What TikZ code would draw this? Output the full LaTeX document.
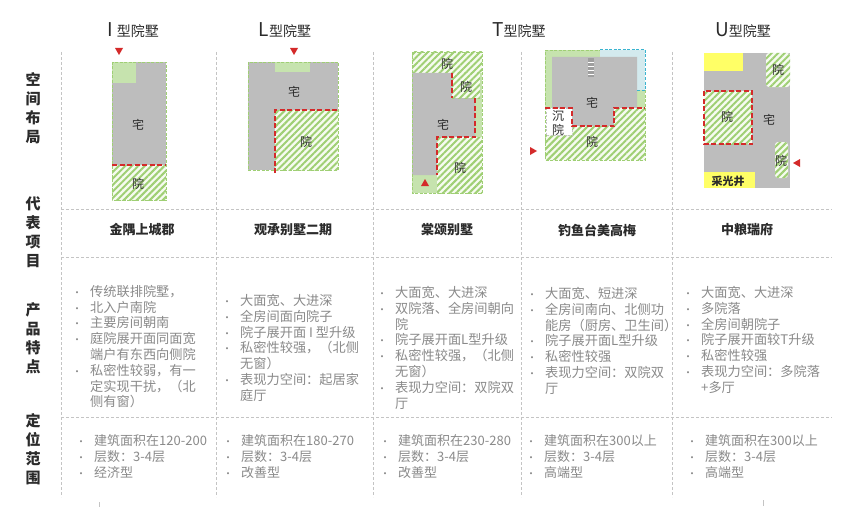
\documentclass[tikz,border=0pt]{standalone}
\usepackage{fontspec}
\setmainfont{Noto Sans CJK SC}
\usetikzlibrary{patterns.meta}
\definecolor{gridc}{HTML}{C4C4C4}
\definecolor{housegrey}{HTML}{BDBDBD}
\definecolor{lgreen}{HTML}{C6E3AE}
\definecolor{hgreen}{HTML}{9FCF74}
\definecolor{hbg}{HTML}{F6FBF0}
\definecolor{redc}{HTML}{D42A2A}
\definecolor{yel}{HTML}{FFFF66}
\definecolor{cyanc}{HTML}{3BB4D0}
\definecolor{bluefill}{HTML}{D3EAEE}
\definecolor{stairc}{HTML}{9E9E9E}
\definecolor{bodyc}{HTML}{8A8A8A}
\definecolor{headc}{HTML}{2B2B2B}
\newcommand{\itm}[1]{\makebox[18pt][l]{\fontsize{10}{10}\selectfont •}#1}
\newcommand{\cont}[1]{\hspace*{18pt}#1}
\begin{document}
\begin{tikzpicture}[x=1pt,y=-1pt,
  gridline/.style={gridc, dash pattern=on 3pt off 2pt, line width=0.8pt},
  house/.style={fill=housegrey},
  yard/.style={fill=hbg, postaction={pattern={Lines[angle=45,distance=4.6pt,line width=2pt]}, pattern color=hgreen}},
  outline/.style={draw=hgreen, dash pattern=on 3pt off 1.5pt, line width=0.9pt},
  reddash/.style={draw=redc, dash pattern=on 5pt off 2.5pt, line width=2pt},
  greydash/.style={draw=gridc, dash pattern=on 2pt off 1.5pt, line width=0.8pt},
  lbl/.style={font=\fontsize{12}{12}\selectfont, text=headc, inner sep=0pt},
  head/.style={anchor=base, inner sep=0pt, text=headc},
  rowlbl/.style={font=\bfseries\fontsize{15}{19}\selectfont, text=headc, align=center, inner sep=0pt},
  proj/.style={font=\bfseries\fontsize{13}{13}\selectfont, text=headc, inner sep=0pt},
  body/.style={font=\fontsize{13.2}{15.8}\selectfont, text=bodyc, align=left, inner sep=0pt, anchor=north west},
  body4/.style={font=\fontsize{13}{16}\selectfont, text=bodyc, align=left, inner sep=0pt, anchor=north west},
  tri/.style={fill=redc}
]
\useasboundingbox (0,0) rectangle (854,519);
\fill[white] (0,0) rectangle (854,519);

% ---------- grid ----------
\foreach \x in {61,216,373,521,672} \draw[gridline] (\x,52) -- (\x,497);
\foreach \y in {209,257,417} \draw[gridline] (61,\y) -- (832,\y);
\draw[gridc, line width=0.8pt] (99,502) -- (99,507);
\draw[gridc, line width=0.8pt] (763,500) -- (763,506);

% ---------- headers ----------
\node[head] (h1) at (133,37) {\fontsize{19}{19}\selectfont I \fontsize{14}{14}\selectfont 型院墅};
\node[head] (h2) at (285,37) {\fontsize{19}{19}\selectfont L\fontsize{14}{14}\selectfont 型院墅};
\node[head] (h3) at (519,37) {\fontsize{19}{19}\selectfont T\fontsize{14}{14}\selectfont 型院墅};
\node[head] (h4) at (743,37) {\fontsize{19}{19}\selectfont U\fontsize{14}{14}\selectfont 型院墅};

% ---------- row labels ----------
\node[rowlbl] (r1) at (33,108) {空\\间\\布\\局};
\node[rowlbl] (r2) at (33,232) {代\\表\\项\\目};
\node[rowlbl] (r3) at (33,338) {产\\品\\特\\点};
\node[rowlbl] (r4) at (33,449) {定\\位\\范\\围};

% ---------- plan 1 : I ----------
\fill[house] (112,62) rectangle (166,165);
\fill[lgreen] (112,62) rectangle (136,83);
\fill[yard] (112,165) rectangle (166,200);
\draw[outline] (112,62) rectangle (166,200);
\draw[reddash] (112,165) -- (166,165);
\node[lbl] (p1a) at (138,125) {宅};
\node[lbl] (p1b) at (138,184) {院};
\fill[tri] (115,48) -- (123,48) -- (119,55) -- cycle;

% ---------- plan 2 : L ----------
\fill[house] (248,62) rectangle (338,170);
\fill[lgreen] (275,62) rectangle (310,72);
\fill[yard] (275,110) rectangle (338,170);
\draw[outline] (248,62) rectangle (338,170);
\draw[reddash] (275,173) -- (275,110) -- (338,110);
\node[lbl] (p2a) at (294,92) {宅};
\node[lbl] (p2b) at (306,142) {院};
\fill[tri] (290,48) -- (298,48) -- (294,55) -- cycle;

% ---------- plan 3 : T (1) ----------
\fill[lgreen] (412,52) rectangle (482,193);
\fill[yard] (412,52) rectangle (482,73);
\fill[house] (412,73) -- (452,73) -- (452,98) -- (475,98) -- (475,137) -- (437,137) -- (437,175) -- (412,175) -- cycle;
\fill[yard] (452,73) rectangle (480,98);
\fill[yard] (437,137) rectangle (482,193);
\draw[outline] (412,52) rectangle (482,193);
\draw[reddash] (452,73) -- (452,98);
\draw[reddash] (475,98) -- (475,137) -- (437,137) -- (437,175);
\node[lbl] (p3a) at (447,64) {院};
\node[lbl] (p3b) at (466,87) {院};
\node[lbl] (p3c) at (443,125) {宅};
\node[lbl] (p3d) at (460,168) {院};
\fill[tri] (421,186) -- (429,186) -- (425,179) -- cycle;

% ---------- plan 4 : T (2) ----------
\fill[lgreen] (545,50) rectangle (645,160);
\fill[bluefill] (600,50) rectangle (645,90);
\fill[house] (552,57) -- (637,57) -- (637,108) -- (614,108) -- (614,126) -- (572,126) -- (572,108) -- (552,108) -- cycle;
\fill[stairc] (588,58) rectangle (594,77);
\draw[white, line width=0.5pt] (588,62) -- (594,62) (588,66) -- (594,66) (588,70) -- (594,70) (588,74) -- (594,74);
\draw[cyanc, dash pattern=on 3pt off 1.5pt, line width=1pt] (600,50) -- (645,50) -- (645,90) -- (637,90);
\fill[yard] (545,135) -- (572,135) -- (572,126) -- (614,126) -- (614,108) -- (645,108) -- (645,160) -- (545,160) -- cycle;
\fill[white] (545,108) rectangle (572,135);
\draw[greydash] (546,108) rectangle (572,135);
\draw[outline] (545,50) -- (600,50) (645,90) -- (645,160) -- (545,160) -- (545,50);
\draw[reddash] (545,108) -- (572,108) -- (572,126) -- (614,126) -- (614,108) -- (645,108);
\node[lbl] (p4a) at (592,103) {宅};
\node[lbl] (p4b) at (592,142) {院};
\node[lbl] (p4c) at (558,116) {沉};
\node[lbl] (p4d) at (558,130) {院};
\fill[tri] (530,147) -- (530,155) -- (537,151) -- cycle;

% ---------- plan 5 : U ----------
\fill[house] (704,53) rectangle (790,188);
\fill[yel] (704,53) rectangle (743,71);
\fill[yard, rounded corners=3pt] (766,53) rectangle (790,87);
\fill[yard] (704,91) rectangle (752,144);
\draw[reddash] (704,91) rectangle (752,144);
\fill[yard, rounded corners=3pt] (775,142) rectangle (788,178);
\fill[yel] (704,172) rectangle (755,188);
\node[lbl] (p5a) at (778,70) {院};
\node[lbl] (p5b) at (727,117) {院};
\node[lbl] (p5c) at (769,120) {宅};
\node[lbl] (p5d) at (781,161) {院};
\node[lbl, font=\bfseries\fontsize{11}{11}\selectfont] (p5e) at (728,181) {采光井};
\fill[tri] (800,159) -- (800,167) -- (793,163) -- cycle;

% ---------- project names ----------
\node[proj] (n1) at (142,230) {金隅上城郡};
\node[proj] (n2) at (293,230) {观承别墅二期};
\node[proj] (n3) at (447,230) {棠颂别墅};
\node[proj] (n4) at (597,230) {钓鱼台美高梅};
\node[proj] (n5) at (747,230) {中粮瑞府};

% ---------- product features ----------
\node[body] (f1) at (72,285) {\itm{传统联排院墅，}\\\itm{北入户南院}\\\itm{主要房间朝南}\\\itm{庭院展开面同面宽}\\\cont{端户有东西向侧院}\\\itm{私密性较弱，有一}\\\cont{定实现干扰，（北}\\\cont{侧有窗）}};
\node[body] (f2) at (222,294) {\itm{大面宽、大进深}\\\itm{全房间面向院子}\\\itm{院子展开面 I 型升级}\\\itm{私密性较强，（北侧}\\\cont{无窗）}\\\itm{表现力空间：起居家}\\\cont{庭厅}};
\node[body] (f3) at (377,286) {\itm{大面宽、大进深}\\\itm{双院落、全房间朝向}\\\cont{院}\\\itm{院子展开面L型升级}\\\itm{私密性较强，（北侧}\\\cont{无窗）}\\\itm{表现力空间：双院双}\\\cont{厅}};
\node[body] (f4) at (527,287) {\itm{大面宽、短进深}\\\itm{全房间南向、北侧功}\\\cont{能房（厨房、卫生间）}\\\itm{院子展开面L型升级}\\\itm{私密性较强}\\\itm{表现力空间：双院双}\\\cont{厅}};
\node[body] (f5) at (683,286) {\itm{大面宽、大进深}\\\itm{多院落}\\\itm{全房间朝院子}\\\itm{院子展开面较T升级}\\\itm{私密性较强}\\\itm{表现力空间：多院落}\\\cont{+多厅}};

% ---------- positioning ----------
\node[body4] (g1) at (76,434) {\itm{建筑面积在120-200}\\\itm{层数：3-4层}\\\itm{经济型}};
\node[body4] (g2) at (223,434) {\itm{建筑面积在180-270}\\\itm{层数：3-4层}\\\itm{改善型}};
\node[body4] (g3) at (380,434) {\itm{建筑面积在230-280}\\\itm{层数：3-4层}\\\itm{改善型}};
\node[body4] (g4) at (526,434) {\itm{建筑面积在300以上}\\\itm{层数：3-4层}\\\itm{高端型}};
\node[body4] (g5) at (687,434) {\itm{建筑面积在300以上}\\\itm{层数：3-4层}\\\itm{高端型}};
\end{tikzpicture}
\end{document}
